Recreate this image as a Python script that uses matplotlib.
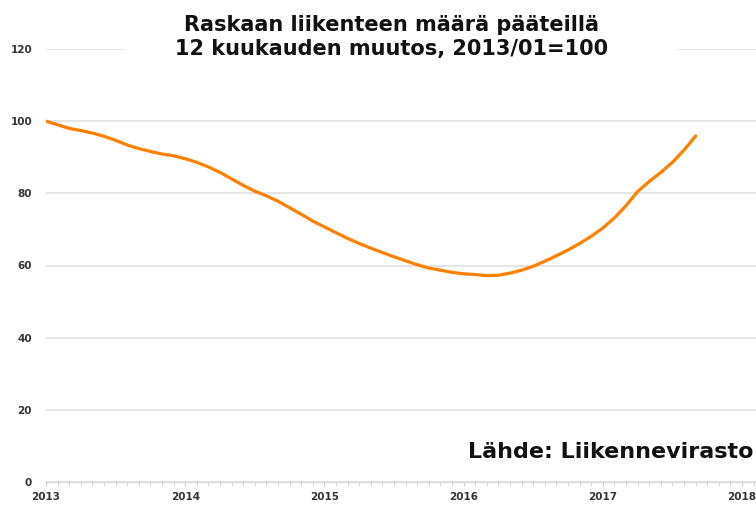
#!/usr/bin/env python3
"""Raskaan liikenteen määrä pääteillä, 12 kk muutos (2013/01=100)."""

import numpy as np
import matplotlib
matplotlib.use('Agg')
import matplotlib.pyplot as plt
import matplotlib.patches as mpatches
from matplotlib.ticker import MultipleLocator

plt.rcParams['font.family'] = ['DejaVu Sans']

# Monthly index values, 2013/01 .. 2017/09
start_year = 2013
index_values = [
    100.0, 99.0, 98.0, 97.4, 96.7, 95.8, 94.7, 93.4, 92.4, 91.6, 90.9, 90.4,
    89.6, 88.6, 87.3, 85.8, 84.0, 82.2, 80.6, 79.3, 77.8, 76.0, 74.2, 72.3,
    70.7, 69.1, 67.5, 66.1, 64.8, 63.6, 62.4, 61.3, 60.2, 59.3, 58.7, 58.1,
    57.7, 57.5, 57.2, 57.3, 57.9, 58.7, 59.8, 61.2, 62.7, 64.3, 66.1, 68.1,
    70.4, 73.2, 76.6, 80.5, 83.3, 85.8, 88.6, 92.0, 95.9,
]
year_ticks = [2013, 2014, 2015, 2016, 2017, 2018]
y_ticks = [0, 20, 40, 60, 80, 100, 120]

title_text = 'Raskaan liikenteen määrä pääteillä\n12 kuukauden muutos, 2013/01=100'
source_text = 'Lähde: Liikennevirasto'

x_vals = start_year + np.arange(len(index_values)) / 12.0

fig = plt.figure(figsize=(7.56, 5.07), dpi=100)
ax = fig.add_axes([46 / 756, 1 - 482 / 507, 1 - 46 / 756, (482 - 49) / 507])

ax.plot(x_vals, index_values, color='#ff8000', lw=2.3, solid_capstyle='round', zorder=3)

ax.set_xlim(2013, 2018.1)
ax.set_ylim(0, 120)
ax.set_yticks(y_ticks)
ax.set_xticks(year_ticks)
ax.xaxis.set_minor_locator(MultipleLocator(1 / 12))

ax.grid(axis='y', color='#e3e3e3', lw=1.3)
ax.set_axisbelow(True)
for side in ['top', 'right', 'left']:
    ax.spines[side].set_visible(False)
ax.spines['bottom'].set_color('#d8d8d8')
ax.spines['bottom'].set_linewidth(1.0)

ax.tick_params(axis='y', length=0, pad=10, labelsize=7.5, labelcolor='#333333')
ax.tick_params(axis='x', which='both', direction='out', color='#cccccc',
               labelsize=7.5, labelcolor='#333333', pad=4)
ax.tick_params(axis='x', which='major', length=3)
ax.tick_params(axis='x', which='minor', length=3)
for lbl in ax.get_xticklabels() + ax.get_yticklabels():
    lbl.set_fontweight('bold')

# white backing box behind the title (hides part of the top gridline)
fig.patches.append(mpatches.Rectangle((125 / 756, 1 - 80 / 507), (677 - 125) / 756, 80 / 507,
                                      transform=fig.transFigure, facecolor='white',
                                      edgecolor='none', zorder=2))

fig.text(392 / 756, 1 - 37 / 507, title_text, ha='center', va='center',
         fontsize=15, fontweight='bold', color='#111111', linespacing=1.3, zorder=3)

fig.text(754 / 756, 1 - 452 / 507, source_text, ha='right', va='center',
         fontsize=16, fontweight='bold', color='#111111')

fig.savefig('out.png', dpi=100, facecolor='white')
plt.close(fig)
